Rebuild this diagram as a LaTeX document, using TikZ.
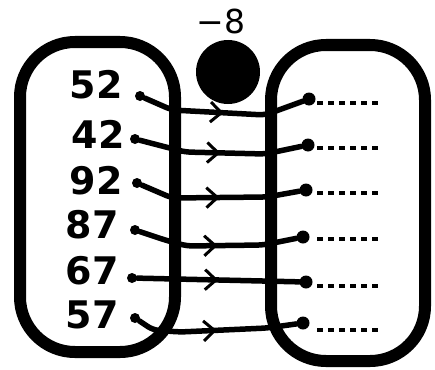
\documentclass[tikz,border=0pt]{standalone}
\usepackage{fontspec}
\newfontfamily\numfont{DejaVu Sans}
\usetikzlibrary{positioning, arrows.meta, decorations.markings}
\tikzset{
    setbox/.style={line width=12pt, rounded corners=55pt},
    numlabel/.style={anchor=east, inner sep=0pt, font=\numfont\bfseries\fontsize{38}{38}\selectfont},
    dotnode/.style={circle, fill=black, inner sep=0pt, minimum size=13pt},
    startdot/.style={circle, fill=black, inner sep=0pt, minimum size=10pt},
    mapline/.style={line width=5.5pt, line cap=round, rounded corners=6pt, postaction={decorate},
        decoration={markings, mark=at position 0.5 with {\arrow[line width=3pt]{Straight Barb[length=11pt, width=20pt]}}}},
    blank/.style={line width=3.5pt, dash pattern=on 6pt off 5pt},
}
\begin{document}
\begin{tikzpicture}[x=1pt, y=-1pt]
        \useasboundingbox (0,0) rectangle (435,369);

        % Sets
        \draw[setbox] (20,42) rectangle (175,352);
        \draw[setbox] (271,45) rectangle (425,361);

        % Machine
        \node[circle, fill=black, minimum size=64pt, inner sep=0pt] (machine) at (228,72) {};
        \node[font=\numfont\fontsize{33}{33}\selectfont, inner sep=0pt] (rule) at (221,21) {−8};

        % Inputs
        \node[numlabel] (n1) at (123,85) {52};
        \node[numlabel] (n2) at (125,134) {42};
        \node[numlabel] (n3) at (123,181) {92};
        \node[numlabel] (n4) at (119,225) {87};
        \node[numlabel] (n5) at (119,271) {67};
        \node[numlabel] (n6) at (119,315) {57};

        \node[startdot] (l1) at (140,96) {};
        \node[startdot] (l2) at (135,139) {};
        \node[startdot] (l3) at (137,183) {};
        \node[startdot] (l4) at (135,230) {};
        \node[startdot] (l5) at (132,278) {};
        \node[startdot] (l6) at (135,318) {};

        % Outputs
        \node[dotnode] (r1) at (309,99) {};
        \node[dotnode] (r2) at (308,145) {};
        \node[dotnode] (r3) at (306,190) {};
        \node[dotnode] (r4) at (303,237) {};
        \node[dotnode] (r5) at (306,282) {};
        \node[dotnode] (r6) at (303,323) {};

        % Arrows
        \draw[mapline] (l1) -- (172,110) -- (265,115) -- (r1);
        \draw[mapline] (l2) -- (185,152) -- (265,154) -- (r2);
        \draw[mapline] (l3) -- (172,198) -- (267,197) -- (r3);
        \draw[mapline] (l4) -- (165,240) -- (187,246) -- (263,245) -- (r4);
        \draw[mapline] (l5) -- (r5);
        \draw[mapline] (l6) -- (153,330) -- (180,332) -- (267,328) -- (r6);

        % Blanks
        \foreach \i/\yy in {1/103, 2/148, 3/193, 4/239, 5/286, 6/330} {
            \coordinate (d\i) at (317,\yy);
            \coordinate (e\i) at (382,\yy);
            \draw[blank] (d\i) -- (e\i);
        }
\end{tikzpicture}
\end{document}
